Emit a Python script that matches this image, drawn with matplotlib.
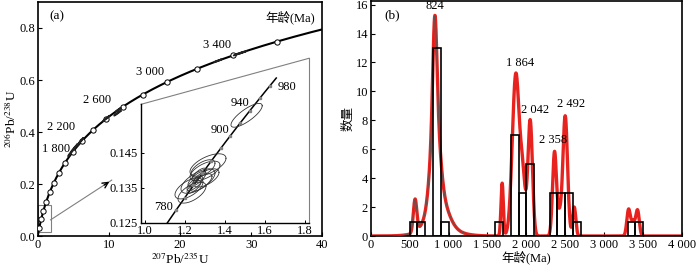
import numpy as np
import matplotlib
matplotlib.use('Agg')
import matplotlib.pyplot as plt
from matplotlib.patches import Rectangle

plt.rcParams['font.family'] = ['Liberation Serif', 'Noto Sans CJK SC']
plt.rcParams['mathtext.fontset'] = 'stix'
plt.rcParams['font.size'] = 9

# --- (a) concordia data ---
L238 = 1.55125e-4   # decay constants, per Ma
L235 = 9.8485e-4
marker_ages = [200, 400, 600, 800, 1000, 1200, 1400, 1600, 1800, 2000,
               2200, 2400, 2600, 2800, 3000, 3200, 3400, 3600]
age_labels = ['1 800', '2 200', '2 600', '3 000', '3 400']
age_label_x = [4.5, 5.3, 10.3, 17.8, 27.2]
age_label_y = [0.336, 0.419, 0.525, 0.63, 0.736]

# older grains on the main concordia (207/235, 206/238, errors)
grain_x = [4.72, 5.2, 5.93, 9.58, 11.2, 11.3, 25.3, 28.1, 28.8]
grain_y = [0.323, 0.34, 0.361, 0.451, 0.472, 0.485, 0.674, 0.70, 0.706]
grain_sx = [0.45, 0.35, 0.45, 0.4, 0.45, 0.35, 0.5, 0.55, 0.45]
grain_sy = [0.016, 0.012, 0.015, 0.009, 0.009, 0.007, 0.005, 0.0055, 0.0045]

# inset ellipses: centre x, centre y, x error, y error, correlation
ins_x = [1.508, 1.315, 1.30, 1.265, 1.22, 1.235, 1.305, 1.26, 1.25, 1.27, 1.245, 1.28, 1.29]
ins_y = [0.1557, 0.1415, 0.1398, 0.1369, 0.1348, 0.1336, 0.1378, 0.1375, 0.1362, 0.1388, 0.1352, 0.1365, 0.1405]
ins_sx = [0.078, 0.09, 0.075, 0.085, 0.07, 0.07, 0.065, 0.045, 0.04, 0.035, 0.035, 0.055, 0.06]
ins_sy = [0.0034, 0.0032, 0.0028, 0.0035, 0.003, 0.003, 0.0026, 0.0022, 0.002, 0.0018, 0.0018, 0.0025, 0.0025]
ins_rho = [0.8, 0.6, 0.6, 0.65, 0.6, 0.6, 0.6, 0.75, 0.75, 0.75, 0.75, 0.7, 0.6]
inset_marker_ages = [780, 800, 820, 840, 860, 880, 900, 920, 940, 960, 980]
inset_labels = ['780', '900', '940', '980']
inset_label_x = [1.092, 1.375, 1.475, 1.71]
inset_label_y = [0.1296, 0.1514, 0.1592, 0.1638]

# --- (b) histogram + probability density ---
bin_left = [500, 600, 800, 900, 1600, 1800, 1900, 2000, 2300, 2400, 2500, 2600, 3300, 3400]
bin_count = [1, 1, 13, 1, 1, 7, 3, 5, 3, 3, 3, 1, 1, 1]
pdp_age = [570, 824, 828, 860, 880, 1689, 1865, 1955, 2049, 2362, 2425, 2499, 2615, 3313, 3371, 3429]
pdp_height = [2.27, 6.4, 6.0, 2.5, 0.5, 3.65, 11.2, 3.6, 8.0, 5.8, 1.3, 8.3, 2.0, 1.8, 1.0, 1.75]
pdp_sigma = [22, 25, 55, 115, 220, 15, 45, 32, 29, 25, 25, 30, 20, 22, 25, 22]
peak_labels = ['824', '1 864', '2 042', '2 358', '2 492']
peak_label_x = [827, 1921, 2113, 2349, 2572]
peak_label_y = [15.9, 11.96, 8.73, 6.65, 9.15]


def conc(t):
    t = np.asarray(t, dtype=float)
    return np.exp(L235 * t) - 1, np.exp(L238 * t) - 1


def ellipse(cx, cy, sx, sy, rho):
    a = np.linspace(0, 2 * np.pi, 120)
    return cx + sx * np.cos(a), cy + sy * (rho * np.cos(a) + np.sqrt(1 - rho ** 2) * np.sin(a))


fig = plt.figure(figsize=(7, 2.7), dpi=100)

# ---------- panel (a) ----------
ax = fig.add_axes([0.0539, 0.1259, 0.4066, 0.8667])
t = np.linspace(0, 3800, 600)
cx, cy = conc(t)
ax.plot(cx, cy, color='black', lw=1.5, zorder=2)
mx, my = conc(marker_ages)
ax.plot(mx, my, 'o', ms=3.8, mfc='white', mec='black', mew=0.7, zorder=3)
for i in range(len(grain_x)):
    ex, ey = ellipse(grain_x[i], grain_y[i], grain_sx[i], grain_sy[i], 0.99)
    ax.plot(ex, ey, color='#222222', lw=1.3, zorder=3)
for s, x, y in zip(age_labels, age_label_x, age_label_y):
    ax.text(x, y, s, ha='right', va='center')

ax.add_patch(Rectangle((0.1, 0.017), 1.7, 0.102, fill=False, ec='gray', lw=0.8))
ax.plot([1.8, 10.4], [0.062, 0.215], color='gray', lw=0.8)
ax.annotate('', xy=(10.4, 0.215), xytext=(9.0, 0.19),
            arrowprops=dict(arrowstyle='->', color='black', lw=1.0, mutation_scale=10))

ax.set_xlim(0, 40)
ax.set_ylim(0, 0.9)
ax.set_xticks([0, 10, 20, 30, 40])
ax.set_yticks([0.0, 0.2, 0.4, 0.6, 0.8])
ax.set_yticklabels(['0.0', '0.2', '0.4', '0.6', '0.8'])
ax.tick_params(direction='in', length=3, width=0.8, labelsize=9, pad=2)
for sp in ax.spines.values():
    sp.set_linewidth(1.2)
ax.set_xlabel(r'$^{207}$Pb/$^{235}$U', fontsize=9.5, labelpad=0)
ax.set_ylabel(r'$^{206}$Pb/$^{238}$U', fontsize=9.5, labelpad=0)
ax.text(0.04, 0.965, '(a)', transform=ax.transAxes, ha='left', va='top', fontsize=9.5)
ax.text(0.975, 0.965, '年龄(Ma)', transform=ax.transAxes, ha='right', va='top', fontsize=9)

# inset
ins = fig.add_axes([0.2014, 0.1752, 0.24, 0.6089])
ins.patch.set_alpha(0)
it = np.linspace(755, 992, 200)
ix, iy = conc(it)
ins.plot(ix, iy, color='black', lw=1.1)
imx, imy = conc(inset_marker_ages)
ins.plot(imx, imy, 's', ms=2, color='gray', zorder=3)
for i in range(len(ins_x)):
    ex, ey = ellipse(ins_x[i], ins_y[i], ins_sx[i], ins_sy[i], ins_rho[i])
    ins.plot(ex, ey, color='#333333', lw=0.6)
for s, x, y in zip(inset_labels, inset_label_x, inset_label_y):
    ins.text(x, y, s, ha='center', va='center')
ins.set_xlim(0.98, 1.82)
ins.set_ylim(0.125, 0.172)
ins.set_xticks([1.0, 1.2, 1.4, 1.6, 1.8])
ins.set_yticks([0.125, 0.135, 0.145])
ins.set_yticklabels(['0.125', '0.135', '0.145'])
ins.tick_params(direction='in', length=2.5, width=0.7, labelsize=9, pad=2)
ins.spines['top'].set_visible(False)
ins.spines['right'].set_color('gray')
ins.spines['right'].set_linewidth(0.8)
ins.spines['left'].set_linewidth(1.0)
ins.spines['bottom'].set_linewidth(1.0)
ins.spines['left'].set_bounds(0.125, 0.125 + 0.72 * 0.047)
ins.plot([0, 1], [0.72, 1.0], transform=ins.transAxes, color='gray', lw=0.8, clip_on=False)

# ---------- panel (b) ----------
bx = fig.add_axes([0.5296, 0.1259, 0.4447, 0.8704])
ages = np.linspace(0, 4000, 2000)
dens = np.zeros_like(ages)
for a, h, s in zip(pdp_age, pdp_height, pdp_sigma):
    dens += h * np.exp(-0.5 * ((ages - a) / s) ** 2)
bx.plot(ages, dens, color='#e8231f', lw=2.4, zorder=2)
m = ages <= 1250
bx.plot(ages[m], dens[m], color='#555555', lw=0.6, zorder=3)
bx.bar(bin_left, bin_count, width=100, align='edge', fill=False,
       edgecolor='black', lw=1.2, zorder=4)
for s, x, y in zip(peak_labels, peak_label_x, peak_label_y):
    bx.text(x, y, s, ha='center', va='center')
bx.text(0.045, 0.965, '(b)', transform=bx.transAxes, ha='left', va='top', fontsize=9.5)

bx.set_xlim(0, 4000)
bx.set_ylim(0, 16.25)
bx.set_xticks([0, 500, 1000, 1500, 2000, 2500, 3000, 3500, 4000])
bx.set_xticklabels(['0', '500', '1 000', '1 500', '2 000', '2 500', '3 000', '3 500', '4 000'])
bx.set_yticks([0, 2, 4, 6, 8, 10, 12, 14, 16])
bx.tick_params(direction='in', length=3, width=0.8, labelsize=9, pad=2)
for sp in bx.spines.values():
    sp.set_linewidth(1.2)
bx.set_xlabel('年龄(Ma)', fontsize=9, labelpad=0)
bx.set_ylabel('数量', fontsize=9, labelpad=1)

fig.savefig('out.png', dpi=100)
